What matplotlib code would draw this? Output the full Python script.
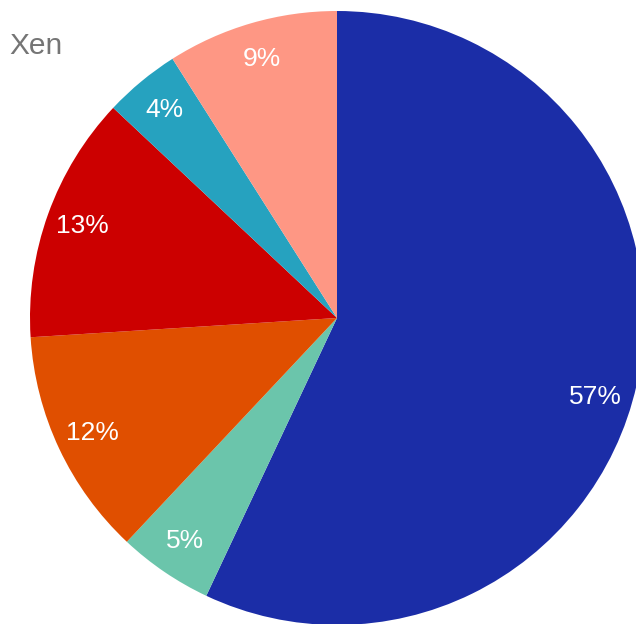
import matplotlib
matplotlib.use("Agg")
import matplotlib.pyplot as plt
import numpy as np

# slice values, clockwise from 12 o'clock
labels = ["57%", "5%", "12%", "13%", "4%", "9%"]
values = [57, 5, 12, 13, 4, 9]
colors = ["#1b2da7", "#6bc5ab", "#e04f00", "#cc0000", "#26a2bf", "#fe9784"]
TITLE = "Xen"

W, H = 636, 624
CX, CY, R = 337, 306, 307
LABEL_DIST = 0.88
fig = plt.figure(figsize=(W / 100, H / 100), dpi=100)
ax = fig.add_axes([0, 0, 1, 1])

wedges, texts = ax.pie(values, labels=labels, colors=colors, startangle=90,
                       counterclock=False, center=(CX, CY), radius=R,
                       labeldistance=LABEL_DIST, frame=True,
                       textprops=dict(color="white", fontsize=19,
                                      family=["Liberation Sans", "DejaVu Sans"]))
ax.set_xlim(0, W)
ax.set_ylim(0, H)
ax.set_aspect("equal")
ax.axis("off")

# centre labels on their slice; slide along the circle if a label would leave the canvas
fig.canvas.draw()
renderer = fig.canvas.get_renderer()
for w, t in zip(wedges, texts):
    t.set_ha("center")
    t.set_va("center")
    half = t.get_window_extent(renderer).width / 2
    ang = np.deg2rad((w.theta1 + w.theta2) / 2)
    rr = R * LABEL_DIST
    x, y = CX + rr * np.cos(ang), CY + rr * np.sin(ang)
    while x + half > W - 14:
        ang -= np.deg2rad(0.1)
        x, y = CX + rr * np.cos(ang), CY + rr * np.sin(ang)
    t.set_position((x, y))

ax.text(9, H - 54, TITLE, color="#757575", fontsize=21.5,
        family=["Liberation Sans", "DejaVu Sans"], ha="left", va="baseline")

fig.savefig("out.png", dpi=100)
